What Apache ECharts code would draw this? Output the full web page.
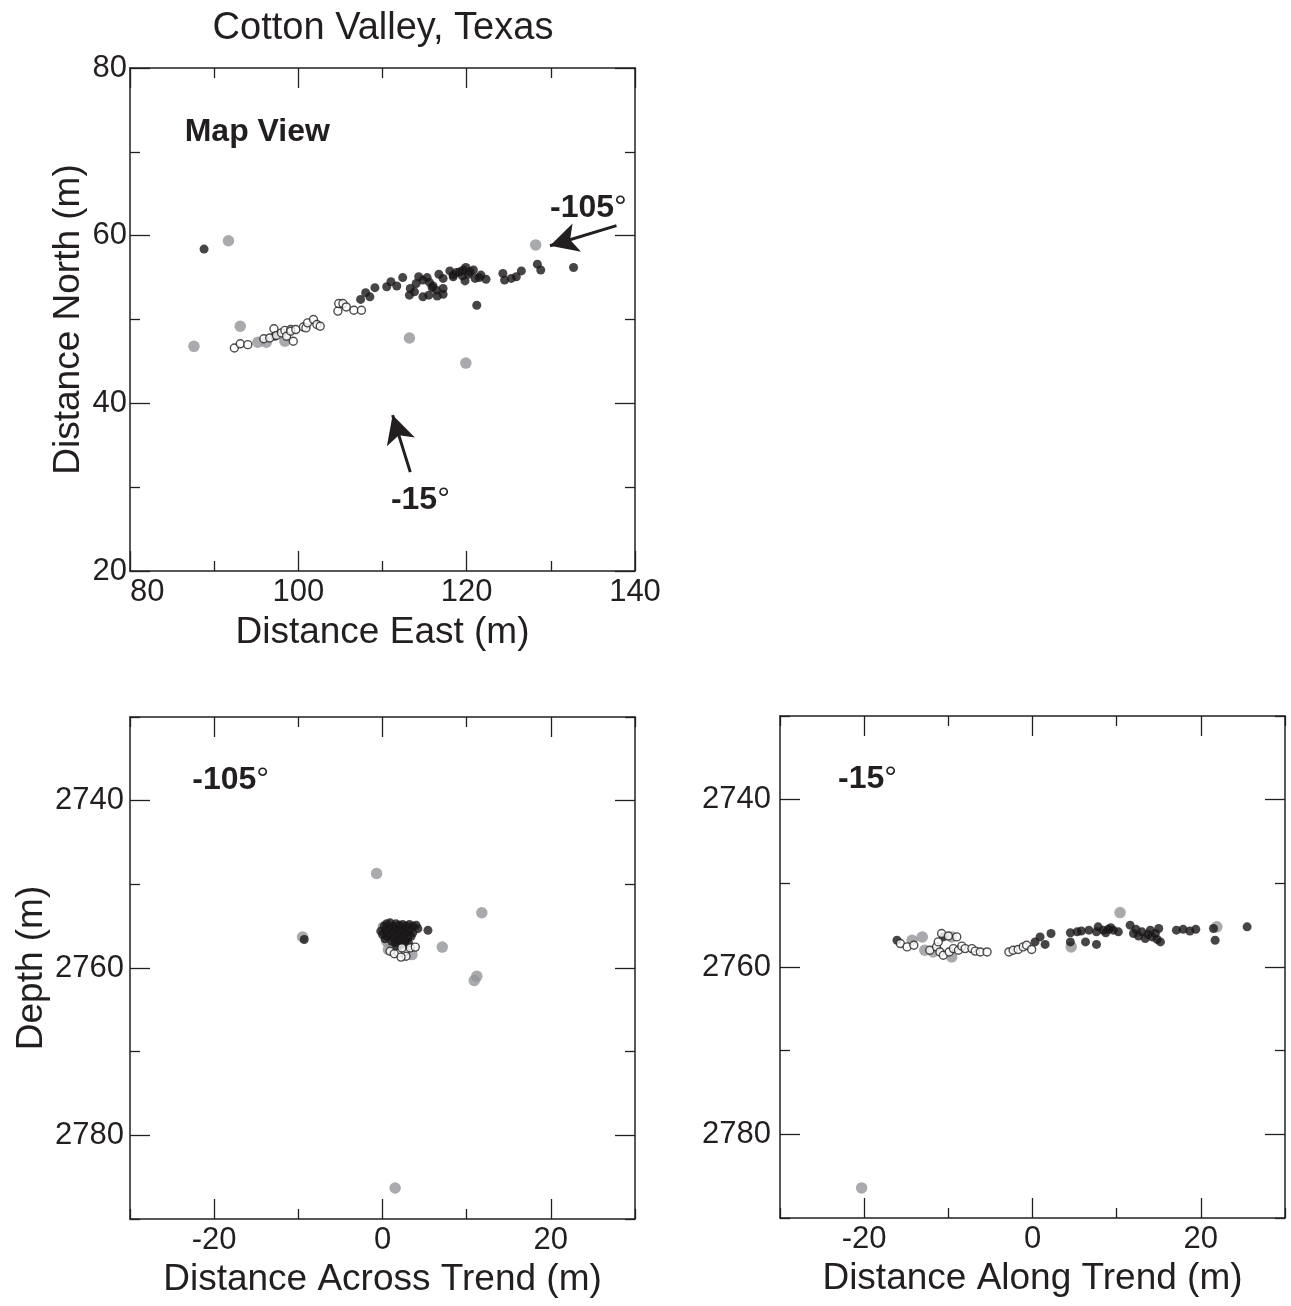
<!DOCTYPE html>
<html><head><meta charset="utf-8">
<script src="https://cdn.jsdelivr.net/npm/echarts@6/dist/echarts.min.js"></script>
<style>html,body{margin:0;padding:0;background:#fff}#c{width:1291px;height:1306px}</style>
</head><body><div id="c"></div>
<script>
// ---------------- DATA ----------------
const titleText = 'Cotton Valley, Texas';

// Map view: [Distance East (m), Distance North (m)]
const mapBlack = [[88.8,58.4],[97.2,48.0],[107.4,52.4],[108.0,53.2],[108.5,52.7],[109.1,53.8],[110.5,53.9],[111.0,54.5],[111.7,54.0],[112.4,55.0],[113.3,53.7],[113.2,52.9],[113.8,53.3],[114.0,54.3],[114.3,55.1],[114.8,54.7],[115.3,55.0],[115.6,54.4],[114.8,52.7],[115.5,52.9],[115.9,53.8],[116.0,54.0],[116.4,53.5],[116.5,52.8],[116.7,55.4],[117.2,53.0],[117.2,54.9],[117.2,53.7],[118.0,55.8],[118.4,55.3],[118.4,55.1],[118.8,55.6],[119.2,55.7],[119.5,55.2],[119.6,55.9],[119.8,54.6],[119.9,56.2],[120.2,55.4],[120.4,55.7],[120.8,55.9],[121.0,54.9],[121.5,55.0],[121.7,55.3],[122.3,54.8],[121.2,51.7],[124.3,55.5],[124.5,54.7],[125.3,54.9],[125.9,55.1],[126.5,55.8],[128.4,56.6],[128.8,55.9],[132.7,56.2]];
const mapOpen = [[92.4,46.6],[93.1,47.1],[94.0,47.0],[95.9,47.7],[96.6,47.8],[97.1,48.9],[97.4,48.1],[98.0,48.4],[98.4,48.7],[98.6,48.0],[99.1,48.8],[99.1,48.6],[99.4,47.4],[99.7,48.8],[100.6,49.1],[100.9,49.0],[101.1,49.6],[101.8,50.0],[102.2,49.4],[102.6,49.2],[104.7,51.0],[104.8,51.9],[105.3,51.9],[105.7,51.5],[106.6,51.1],[107.5,51.1]];
const mapGray = [[87.6,46.8],[91.7,59.4],[93.1,49.2],[95.2,47.3],[96.2,47.3],[98.4,47.4],[113.2,47.8],[119.9,44.8],[128.2,58.9]];

// -105 degree view: [Distance Across Trend (m), Depth (m)]
const acrossBlack = [[-9.3,2756.6],[5.4,2755.5],[-0.2,2755.6],[0.2,2755.0],[0.5,2754.7],[0.9,2754.6],[1.3,2755.0],[1.6,2754.7],[2.0,2754.9],[2.4,2754.8],[2.8,2755.0],[3.2,2754.8],[3.6,2755.0],[4.0,2754.9],[4.2,2755.3],[0.0,2756.0],[0.4,2755.5],[0.8,2755.3],[1.2,2755.6],[1.6,2755.4],[2.0,2755.6],[2.4,2755.4],[2.8,2755.7],[3.2,2755.5],[3.6,2755.8],[0.6,2756.2],[1.0,2756.0],[1.4,2756.4],[1.8,2756.1],[2.2,2756.3],[2.6,2756.0],[3.0,2756.4],[3.4,2756.2],[1.1,2756.8],[1.5,2757.0],[1.9,2756.7],[2.3,2757.1],[2.7,2756.8],[3.1,2757.0],[1.7,2757.4],[2.5,2757.4],[0.3,2756.5]];
const acrossOpen = [[0.9,2758.0],[1.9,2758.2],[2.7,2758.0],[2.8,2758.6],[3.3,2757.6],[3.9,2757.5],[2.3,2757.6],[1.4,2758.3],[2.2,2758.7]];
const acrossGray = [[-0.7,2748.7],[-9.5,2756.3],[11.8,2753.4],[7.1,2757.5],[10.9,2761.5],[11.2,2761.0],[1.5,2786.3],[0.1,2755.1],[0.5,2756.8],[3.5,2758.4],[0.7,2757.8]];

// -15 degree view: [Distance Along Trend (m), Depth (m)]
const alongBlack = [[-16.1,2756.8],[-10.6,2756.4],[0.3,2757.0],[0.9,2756.4],[1.5,2757.3],[2.2,2756.0],[4.5,2755.9],[4.5,2757.0],[5.3,2755.8],[5.8,2755.7],[6.3,2757.0],[6.7,2755.6],[7.6,2757.3],[7.6,2755.8],[7.8,2755.2],[8.4,2755.6],[8.7,2755.9],[9.0,2755.5],[9.3,2755.3],[9.6,2755.6],[10.2,2755.8],[11.6,2755.0],[12.0,2756.0],[12.3,2755.5],[12.6,2756.3],[13.0,2755.8],[13.4,2756.6],[13.7,2756.1],[14.0,2755.6],[14.2,2756.4],[14.6,2756.0],[14.8,2756.7],[15.0,2755.4],[15.2,2757.0],[17.1,2755.6],[17.9,2755.5],[18.7,2755.7],[19.4,2755.5],[21.5,2755.4],[21.7,2756.8],[25.5,2755.2]];
const alongOpen = [[-15.7,2757.2],[-14.9,2757.6],[-14.1,2757.4],[-12.2,2758.0],[-11.4,2757.6],[-11.2,2757.0],[-10.8,2756.0],[-10.0,2756.3],[-9.0,2756.4],[-11.0,2758.2],[-10.6,2758.6],[-9.9,2758.2],[-9.4,2757.8],[-8.8,2758.0],[-8.4,2757.5],[-8.0,2757.8],[-7.2,2757.8],[-6.8,2758.1],[-6.2,2758.2],[-5.4,2758.2],[-2.8,2758.2],[-2.3,2758.0],[-1.7,2757.9],[-1.1,2757.6],[-0.7,2757.4],[-0.1,2757.9]];
const alongGray = [[-14.3,2756.8],[-13.1,2756.4],[-12.8,2758.0],[-11.8,2758.2],[-9.6,2756.4],[-9.6,2758.8],[4.6,2757.6],[10.4,2753.5],[21.9,2755.2],[-20.3,2786.4]];

// Tick values
const mapXMajor = [80,100,120,140], mapXMinor = [90,110,130];
const mapYMajor = [20,40,60,80],   mapYMinor = [30,50,70];
const trendXMajor = [-20,0,20],    trendXMinor = [-30,-10,10,30];
const depthMajor = [2740,2760,2780], depthMinor = [2730,2750,2770,2790];

// Annotations
const arrows = [
  [[137.8,61.2],[129.9,58.8]],
  [[113.3,31.8],[111.2,38.6]]
];

// ---------------- CHART ----------------
const INK = '#231f20', GRAY = '#939598';
const FONT = '"Liberation Sans", Arial, Helvetica, sans-serif';

function axisGroup(dim, grid, min, max, major, minor, o) {
  const pos = dim === 'x' ? ['bottom','top'] : ['left','right'];
  const base = {type:'value', gridIndex:grid, min:min, max:max, inverse:!!o.inverse, splitLine:{show:false}, silent:true};
  const tick = (vals, len) => ({show:true, inside:true, length:len, customValues:vals, lineStyle:{color:INK, width:1.3}});
  const line = {show:true, onZero:false, lineStyle:{color:INK, width:1.5}};
  const lab = {show:true, customValues:major, margin:o.margin, color:INK, fontSize:31, fontFamily:FONT,
               formatter: v => String(v)};
  if (o.alignMin) lab.alignMinLabel = o.alignMin;
  return [
    Object.assign({}, base, {
      position:pos[0], name:o.name, nameLocation:'middle', nameGap:o.nameGap,
      nameTextStyle:{color:INK, fontSize:37, fontFamily:FONT},
      axisLine:line, axisTick:tick(major,20), axisLabel:lab
    }),
    Object.assign({}, base, {position:pos[1], axisLine:line, axisTick:tick(major,20), axisLabel:{show:false}}),
    Object.assign({}, base, {position:pos[0], axisLine:{show:false,onZero:false}, axisTick:tick(minor,10), axisLabel:{show:false}}),
    Object.assign({}, base, {position:pos[1], axisLine:{show:false,onZero:false}, axisTick:tick(minor,10), axisLabel:{show:false}})
  ];
}

const xAxes = [].concat(
  axisGroup('x',0,80,140,mapXMajor,mapXMinor,{name:'Distance East (m)', nameGap:43, margin:6, alignMin:'left'}),
  axisGroup('x',1,-30,30,trendXMajor,trendXMinor,{name:'Distance Across Trend (m)', nameGap:42, margin:6}),
  axisGroup('x',2,-30,30,trendXMajor,trendXMinor,{name:'Distance Along Trend (m)', nameGap:42, margin:6})
);
const yAxes = [].concat(
  axisGroup('y',0,20,80,mapYMajor,mapYMinor,{name:'Distance North (m)', nameGap:43, margin:3}),
  axisGroup('y',1,2730,2790,depthMajor,depthMinor,{name:'Depth (m)', nameGap:80, margin:6, inverse:true}),
  axisGroup('y',2,2730,2790,depthMajor,depthMinor,{name:'', nameGap:10, margin:9, inverse:true})
);

function dots(name, data, gi, kind, extra) {
  const s = {
    type:'scatter', name:name, data:data, xAxisIndex:gi*4, yAxisIndex:gi*4, silent:true,
    symbol:'circle', animation:false
  };
  if (kind === 'black') { s.symbolSize = 9; s.itemStyle = {color:'#1a1718'}; s.z = 3; }
  if (kind === 'gray')  { s.symbolSize = 11.5; s.itemStyle = {color:GRAY}; s.z = 2; }
  if (kind === 'open')  { s.symbolSize = 8; s.itemStyle = {color:'#fff', borderColor:INK, borderWidth:1.4}; s.z = 4; }
  return Object.assign(s, extra || {});
}

function label(coord, main, deg, size) {
  return {
    coord: coord,
    label: {
      show:true, position:'right', distance:0,
      formatter: deg ? '{a|' + main + '}{b|°}' : '{a|' + main + '}',
      rich: {
        a:{fontSize:size, fontWeight:'bold', fontFamily:FONT, color:INK},
        b:{fontSize:size, fontWeight:'normal', fontFamily:FONT, color:INK}
      }
    }
  };
}
function marks(items) {
  return {symbol:'circle', symbolSize:0, silent:true, itemStyle:{color:'transparent'}, data:items};
}

const option = {
  animation:false,
  backgroundColor:'#fff',
  textStyle:{fontFamily:FONT},
  graphic:[{type:'text', x:383, y:29, style:{text:titleText, align:'center', verticalAlign:'middle', fontSize:38, fontFamily:FONT, fill:INK}}],
  grid:[
    {left:130, top:68, width:505, height:503},
    {left:130, top:717, width:505, height:502},
    {left:780, top:716, width:505, height:502}
  ],
  xAxis:xAxes,
  yAxis:yAxes,
  series:[
    dots('Gray', mapGray, 0, 'gray'),
    dots('Black', mapBlack, 0, 'black', {
      markLine:{
        silent:true, animation:false, symbol:['none','arrow'], symbolSize:26,
        lineStyle:{color:INK, width:3, type:'solid'}, label:{show:false},
        data: arrows.map(a => [{coord:a[0], symbol:'none'}, {coord:a[1], symbol:'arrow', symbolSize:[22,28]}])
      },
      markPoint: marks([
        label([86.5,72.4],'Map View',false,32),
        label([129.9,63.3],'-105',true,32),
        label([111.0,28.5],'-15',true,32)
      ])
    }),
    dots('Open', mapOpen, 0, 'open'),
    dots('Gray', acrossGray, 1, 'gray'),
    dots('Black', acrossBlack, 1, 'black', {markPoint: marks([label([-22.6,2737.5],'-105',true,32)])}),
    dots('Open', acrossOpen, 1, 'open'),
    dots('Gray', alongGray, 2, 'gray'),
    dots('Black', alongBlack, 2, 'black', {markPoint: marks([label([-23.1,2737.6],'-15',true,32)])}),
    dots('Open', alongOpen, 2, 'open')
  ]
};
const chart = echarts.init(document.getElementById('c'), null, {renderer:'canvas'});
chart.setOption(option);
</script></body></html>
